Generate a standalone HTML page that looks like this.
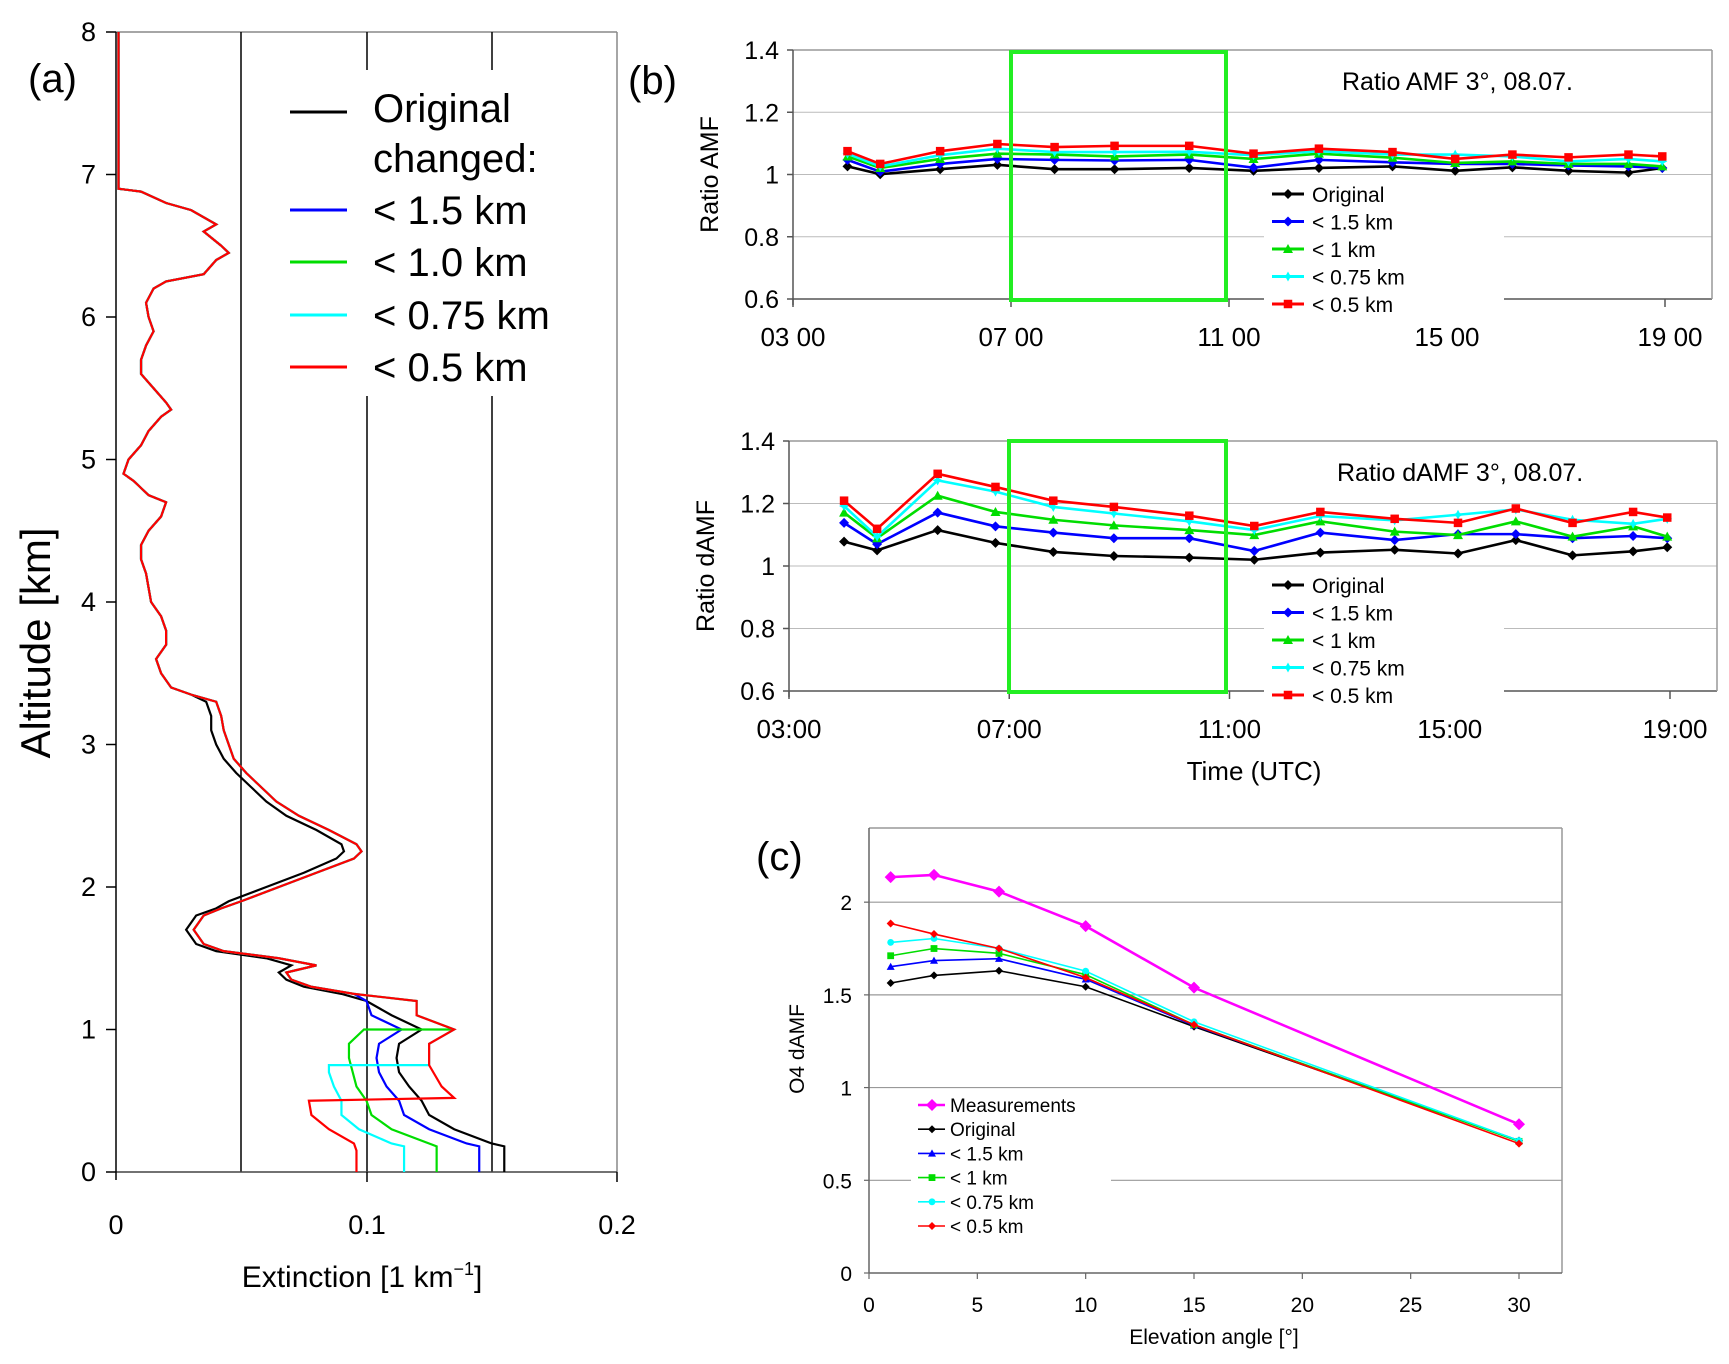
<!DOCTYPE html>
<html><head><meta charset="utf-8">
<style>
html,body{margin:0;padding:0;background:#fff;}
svg{display:block;}
text{font-family:"Liberation Sans",sans-serif;fill:#000;}
.nar{font-family:"Liberation Sans Narrow","Liberation Sans",sans-serif;}
</style></head>
<body>
<svg id="fig" width="1729" height="1364" viewBox="0 0 1729 1364" xmlns="http://www.w3.org/2000/svg">
<rect x="0" y="0" width="1729" height="1364" fill="#fff"/>
<g id="pa">
  <text x="28" y="92" font-size="40">(a)</text>
  <line x1="116" y1="32" x2="617" y2="32" stroke="#888" stroke-width="1.5"/>
  <line x1="617" y1="32" x2="617" y2="1172" stroke="#888" stroke-width="1.5"/>
  <line x1="241" y1="32" x2="241" y2="1172" stroke="#000" stroke-width="1.5"/>
  <line x1="367" y1="32" x2="367" y2="70" stroke="#000" stroke-width="1.5"/>
  <line x1="367" y1="396" x2="367" y2="1172" stroke="#000" stroke-width="1.5"/>
  <line x1="492" y1="32" x2="492" y2="70" stroke="#000" stroke-width="1.5"/>
  <line x1="492" y1="396" x2="492" y2="1172" stroke="#000" stroke-width="1.5"/>
  <line x1="116" y1="1172" x2="617" y2="1172" stroke="#444" stroke-width="1.5"/>
  <line x1="116" y1="32" x2="116" y2="1180" stroke="#000" stroke-width="1.5"/>
  <line x1="367" y1="1172" x2="367" y2="1182" stroke="#000" stroke-width="1.5"/>
  <line x1="617" y1="1172" x2="617" y2="1182" stroke="#000" stroke-width="1.5"/>
  <text x="116" y="1234" font-size="27" text-anchor="middle">0</text>
  <text x="367" y="1234" font-size="27" text-anchor="middle">0.1</text>
  <text x="617" y="1234" font-size="27" text-anchor="middle">0.2</text>
  <text x="362" y="1287" font-size="30" text-anchor="middle">Extinction [1 km<tspan font-size="18" dy="-12">−1</tspan><tspan dy="12">]</tspan></text>
  <text transform="translate(50,643) rotate(-90)" font-size="42" text-anchor="middle">Altitude [km]</text>
  <g id="aTicks"></g>
  <g id="aLines"></g>
  <g>
    <line x1="290" y1="112" x2="347" y2="112" stroke="#000" stroke-width="3"/>
    <text x="373" y="122" font-size="40">Original</text>
    <text x="373" y="172" font-size="40">changed:</text>
    <line x1="290" y1="210" x2="347" y2="210" stroke="#00f" stroke-width="3"/>
    <text x="373" y="224" font-size="40">&lt; 1.5 km</text>
    <line x1="290" y1="262" x2="347" y2="262" stroke="#0d0" stroke-width="3"/>
    <text x="373" y="276" font-size="40">&lt; 1.0 km</text>
    <line x1="290" y1="315" x2="347" y2="315" stroke="#0ff" stroke-width="3"/>
    <text x="373" y="329" font-size="40">&lt; 0.75 km</text>
    <line x1="290" y1="367" x2="347" y2="367" stroke="#f00" stroke-width="3"/>
    <text x="373" y="381" font-size="40">&lt; 0.5 km</text>
  </g>
</g>
<text x="628" y="94" font-size="40">(b)</text>
<g id="pb1"></g>
<g id="pb2"></g>
<g id="pc"></g>
</svg>
<script>
const aAltTicks=[0,1,2,3,4,5,6,7,8];
const upperAlt=[8,6.9,6.88,6.8,6.75,6.65,6.6,6.5,6.45,6.4,6.3,6.25,6.2,6.1,6.0,5.9,5.8,5.7,5.6,5.5,5.4,5.35,5.3,5.2,5.1,5.0,4.9,4.85,4.8,4.75,4.7,4.6,4.5,4.4,4.3,4.2,4.1,4.0,3.9,3.8,3.7,3.6,3.5,3.4,3.35];
const upperExt=[0.001,0.001,0.01,0.02,0.03,0.04,0.035,0.042,0.045,0.04,0.035,0.02,0.015,0.012,0.013,0.015,0.012,0.01,0.01,0.015,0.02,0.022,0.018,0.013,0.01,0.005,0.003,0.007,0.01,0.013,0.02,0.018,0.013,0.01,0.01,0.012,0.013,0.014,0.018,0.02,0.02,0.016,0.018,0.022,0.03];
const origMidAlt=[3.3,3.2,3.1,3.0,2.9,2.8,2.7,2.6,2.5,2.4,2.3,2.25,2.2,2.1,2.0,1.9,1.85,1.8,1.75,1.7,1.6,1.55,1.5,1.45,1.4,1.35,1.3,1.25];
const origMidExt=[0.036,0.038,0.038,0.04,0.043,0.048,0.054,0.06,0.068,0.08,0.09,0.091,0.088,0.075,0.06,0.045,0.04,0.032,0.03,0.028,0.032,0.04,0.06,0.07,0.065,0.068,0.075,0.09];
const modMidAlt=[3.3,3.2,3.1,3.0,2.9,2.8,2.7,2.6,2.5,2.4,2.3,2.25,2.2,2.1,2.0,1.9,1.85,1.8,1.75,1.7,1.6,1.55,1.5,1.45,1.4,1.35,1.3,1.25];
const modMidExt=[0.04,0.042,0.043,0.045,0.047,0.052,0.058,0.064,0.073,0.085,0.096,0.098,0.095,0.08,0.065,0.05,0.042,0.035,0.033,0.031,0.035,0.043,0.065,0.08,0.068,0.07,0.078,0.095];
const origLowAlt=[1.2,1.1,1.0,0.9,0.8,0.7,0.6,0.5,0.4,0.3,0.2,0.18,0];
const origLowExt=[0.1,0.11,0.122,0.113,0.112,0.113,0.117,0.122,0.125,0.135,0.15,0.155,0.155];
const blueLowAlt=[1.2,1.1,1.0,0.9,0.8,0.7,0.6,0.5,0.4,0.3,0.2,0.18,0];
const blueLowExt=[0.1,0.102,0.114,0.105,0.104,0.105,0.108,0.113,0.115,0.125,0.14,0.145,0.145];
const redLowAlt=[1.2,1.1,1.0,0.9,0.75,0.6,0.52,0.5,0.4,0.3,0.2,0.15,0];
const redLowExt=[0.12,0.12,0.135,0.125,0.125,0.13,0.135,0.077,0.078,0.085,0.095,0.096,0.096];
const greenLowAlt=[1.2,1.1,1.0,1.0,0.9,0.8,0.6,0.5,0.4,0.3,0.2,0.18,0];
const greenLowExt=[0.12,0.12,0.135,0.099,0.093,0.093,0.096,0.1,0.102,0.11,0.125,0.128,0.128];
const cyanLowAlt=[1.2,1.1,1.0,0.9,0.75,0.75,0.7,0.6,0.5,0.4,0.3,0.2,0.18,0];
const cyanLowExt=[0.12,0.12,0.135,0.125,0.125,0.085,0.085,0.087,0.09,0.09,0.097,0.11,0.115,0.115];

const NS="http://www.w3.org/2000/svg";
function mk(tag,attrs,parent){const e=document.createElementNS(NS,tag);for(const k in attrs)e.setAttribute(k,attrs[k]);parent.appendChild(e);return e;}
const ax=v=>116+v*2505, ay=v=>1172-v*142.5;
const aT=document.getElementById('aTicks');
aAltTicks.forEach(t=>{
  mk('line',{x1:106,y1:ay(t),x2:116,y2:ay(t),stroke:'#000','stroke-width':1.5},aT);
  const tx=mk('text',{x:96,y:ay(t)+9,'font-size':27,'text-anchor':'end'},aT);
  tx.textContent=t;
  
  
});
function profile(parts,color,name){
  let pts=[];
  parts.forEach(p=>{for(let i=0;i<p[0].length;i++)pts.push(ax(p[1][i])+','+ay(p[0][i]));});
  const pl=mk('polyline',{points:pts.join(' '),fill:'none',stroke:color,'stroke-width':2.2},document.getElementById('aLines'));
  
  
}
profile([[upperAlt,upperExt],[origMidAlt,origMidExt],[origLowAlt,origLowExt]],'#000','profile-original');
profile([[upperAlt,upperExt],[modMidAlt,modMidExt],[blueLowAlt,blueLowExt]],'#00f','profile-1.5km');
profile([[upperAlt,upperExt],[modMidAlt,modMidExt],[greenLowAlt,greenLowExt]],'#0d0','profile-1.0km');
profile([[upperAlt,upperExt],[modMidAlt,modMidExt],[cyanLowAlt,cyanLowExt]],'#0ff','profile-0.75km');
profile([[upperAlt,upperExt],[modMidAlt,modMidExt],[redLowAlt,redLowExt]],'#f00','profile-0.5km');

const bTimes=[4.0,4.6,5.7,6.75,7.8,8.9,10.27,11.45,12.65,14.0,15.15,16.2,17.23,18.33,18.95];
const bTimeTicks=[3,7,11,15,19];
const bYTicks=[0.6,0.8,1,1.2,1.4];
const amfOrig=[1.026,1.001,1.017,1.031,1.017,1.017,1.021,1.012,1.021,1.026,1.012,1.023,1.012,1.006,1.021];
const amf15=[1.047,1.009,1.034,1.050,1.047,1.045,1.047,1.022,1.047,1.039,1.034,1.034,1.029,1.026,1.021];
const amf10=[1.058,1.021,1.050,1.067,1.064,1.058,1.064,1.050,1.067,1.054,1.037,1.042,1.034,1.034,1.026];
const amf075=[1.067,1.026,1.062,1.083,1.072,1.072,1.073,1.062,1.075,1.064,1.064,1.058,1.042,1.050,1.042];
const amf05=[1.075,1.034,1.075,1.098,1.088,1.092,1.092,1.067,1.083,1.072,1.050,1.064,1.055,1.064,1.058];
const damfOrig=[1.078,1.050,1.115,1.074,1.045,1.032,1.027,1.020,1.043,1.052,1.040,1.083,1.034,1.047,1.060];
const damf15=[1.138,1.070,1.171,1.127,1.107,1.089,1.089,1.048,1.107,1.083,1.102,1.102,1.089,1.096,1.089];
const damf10=[1.171,1.089,1.225,1.173,1.148,1.130,1.115,1.099,1.143,1.110,1.099,1.143,1.094,1.127,1.094];
const damf075=[1.192,1.094,1.274,1.238,1.189,1.168,1.143,1.115,1.160,1.146,1.164,1.181,1.148,1.135,1.151];
const damf05=[1.209,1.119,1.295,1.253,1.209,1.189,1.161,1.128,1.173,1.151,1.138,1.184,1.138,1.173,1.155];
const bLegend=['Original','< 1.5 km','< 1 km','< 0.75 km','< 0.5 km'];
const bColors=['#000','#00f','#0d0','#0ff','#f00'];
const bMarks=['diamond','diamond','triangle','cross','square'];

function marker(g,type,x,y,c,s){
  let e;
  if(type==='diamond')e=mk('polygon',{points:`${x},${y-s} ${x+s},${y} ${x},${y+s} ${x-s},${y}`,fill:c},g);
  else if(type==='triangle')e=mk('polygon',{points:`${x},${y-s} ${x+s},${y+s*0.8} ${x-s},${y+s*0.8}`,fill:c},g);
  else if(type==='square')e=mk('rect',{x:x-s*0.85,y:y-s*0.85,width:s*1.7,height:s*1.7,fill:c},g);
  else if(type==='circle')e=mk('circle',{cx:x,cy:y,r:s*0.85,fill:c},g);
  else e=mk('polygon',{points:`${x},${y-s} ${x+s*0.35},${y-s*0.35} ${x+s},${y} ${x+s*0.35},${y+s*0.35} ${x},${y+s} ${x-s*0.35},${y+s*0.35} ${x-s},${y} ${x-s*0.35},${y-s*0.35}`,fill:c},g);
  return e;
}

function panelB(gid,cfg){
  const g=document.getElementById(gid);
  const X=t=>cfg.x0+(t-3)/16*(cfg.x19-cfg.x0);
  const Y=v=>cfg.yb-(v-0.6)/0.8*(cfg.yb-cfg.yt);
  bYTicks.forEach(t=>{
    mk('line',{x1:cfg.x0,y1:Y(t),x2:cfg.xr,y2:Y(t),stroke:t===1.4?'#999':(t===0.6?'#555':'#bbb'),'stroke-width':t===1.4||t===0.6?1.5:1},g);
    mk('line',{x1:cfg.x0-6,y1:Y(t),x2:cfg.x0,y2:Y(t),stroke:'#555','stroke-width':1.5},g);
    const tx=mk('text',{x:cfg.x0-14,y:Y(t)+9,'font-size':25,'text-anchor':'end',class:'nar'},g);
    tx.textContent=(t===1?'1':t.toFixed(1));
    
    
  });
  mk('line',{x1:cfg.x0,y1:Y(1.4),x2:cfg.x0,y2:Y(0.6)+6,stroke:'#555','stroke-width':1.5},g);
  mk('line',{x1:cfg.xr,y1:Y(1.4),x2:cfg.xr,y2:Y(0.6),stroke:'#999','stroke-width':1.5},g);
  bTimeTicks.forEach(t=>{
    mk('line',{x1:X(t),y1:Y(0.6),x2:X(t),y2:Y(0.6)+8,stroke:'#555','stroke-width':1.5},g);
    const tx=mk('text',{x:X(t)+(t===19?5:0),y:cfg.labY,'font-size':26,'text-anchor':'middle',class:'nar'},g);
    tx.textContent=(t<10?'0':'')+t+cfg.sep+'00';
    
    
  });
  mk('rect',{x:cfg.lx-8,y:cfg.ly-16,width:240,height:135,fill:'#fff'},g);
  cfg.series.forEach((s,i)=>{
    const pl=mk('polyline',{points:s.map((v,j)=>X(bTimes[j])+','+Y(v)).join(' '),fill:'none',stroke:bColors[i],'stroke-width':2.6},g);
    
    
    s.forEach((v,j)=>{
      const m=marker(g,bMarks[i],X(bTimes[j]),Y(v),bColors[i],5);
      
      
    });
  });
  const bx=mk('rect',{x:cfg.bx1,y:cfg.by1,width:cfg.bx2-cfg.bx1,height:cfg.by2-cfg.by1,fill:'none',stroke:'#2e2','stroke-width':4},g);
  
  
  bLegend.forEach((l,i)=>{
    const yy=cfg.ly+i*27.5;
    mk('line',{x1:cfg.lx,y1:yy,x2:cfg.lx+32,y2:yy,stroke:bColors[i],'stroke-width':3},g);
    const m=marker(g,bMarks[i],cfg.lx+16,yy,bColors[i],5);
    
    
    const tx=mk('text',{x:cfg.lx+40,y:yy+8,'font-size':21,class:'nar'},g);
    tx.textContent=l;
    
    
  });
  const tt=mk('text',{x:cfg.tx,y:cfg.ty,'font-size':25,class:'nar'},g);
  tt.textContent=cfg.title;
  
  
  const yl=mk('text',{transform:`translate(${cfg.ylx},${(Y(0.6)+Y(1.4))/2}) rotate(-90)`,'font-size':25,'text-anchor':'middle'},g);
  yl.textContent=cfg.ylab;
  
  
}
panelB('pb1',{key:'amf',x0:793,x19:1665,xr:1712,yt:50,yb:299,labY:346,sep:' ',lx:1272,ly:194,bx1:1011,bx2:1226,by1:52,by2:300,tx:1342,ty:90,title:'Ratio AMF 3°, 08.07.',ylab:'Ratio AMF',ylx:718,series:[amfOrig,amf15,amf10,amf075,amf05]});
panelB('pb2',{key:'damf',x0:789,x19:1670,xr:1717,yt:441,yb:691,labY:738,sep:':',lx:1272,ly:585,bx1:1009,bx2:1226,by1:441,by2:692,tx:1337,ty:481,title:'Ratio dAMF 3°, 08.07.',ylab:'Ratio dAMF',ylx:714,series:[damfOrig,damf15,damf10,damf075,damf05]});
{const g=document.getElementById('pb2');const t=mk('text',{x:1254,y:780,'font-size':26,'text-anchor':'middle',class:'nar'},g);t.textContent='Time (UTC)';

}

const cAngles=[1,3,6,10,15,30];
const cXTicks=[0,5,10,15,20,25,30];
const cYTicks=[0,0.5,1,1.5,2];
const cMeas=[2.135,2.147,2.057,1.871,1.539,0.802];
const cOrig=[1.564,1.605,1.630,1.544,1.329,0.714];
const c15=[1.652,1.685,1.695,1.584,1.335,0.714];
const c10=[1.711,1.750,1.724,1.609,1.339,0.710];
const c075=[1.783,1.804,1.750,1.628,1.355,0.714];
const c05=[1.885,1.828,1.750,1.593,1.339,0.698];
const cLegend=['Measurements','Original','< 1.5 km','< 1 km','< 0.75 km','< 0.5 km'];
const cColors=['#f0f','#000','#00f','#0d0','#0ff','#f00'];
const cMarks=['diamond','diamond','triangle','square','circle','diamond'];
(function(){
  const g=document.getElementById('pc');
  const X=v=>869+v/30*650, Y=v=>1273-v/2.4*445;
  const t0=mk('text',{x:756,y:870,'font-size':40},g);t0.textContent='(c)';
  
  
  mk('line',{x1:X(0),y1:Y(2.4),x2:1562,y2:Y(2.4),stroke:'#999','stroke-width':1.5},g);
  mk('line',{x1:1562,y1:Y(2.4),x2:1562,y2:Y(0),stroke:'#999','stroke-width':1.5},g);
  cYTicks.forEach(t=>{
    if(t>0)mk('line',{x1:X(0),y1:Y(t),x2:1562,y2:Y(t),stroke:'#999','stroke-width':1.2},g);
    mk('line',{x1:X(0)-5,y1:Y(t),x2:X(0),y2:Y(t),stroke:'#666','stroke-width':1.2},g);
    const tx=mk('text',{x:852,y:Y(t)+8,'font-size':21,'text-anchor':'end',class:'nar'},g);
    tx.textContent=t;
    
    
  });
  mk('line',{x1:X(0),y1:Y(0),x2:1562,y2:Y(0),stroke:'#666','stroke-width':1.5},g);
  mk('line',{x1:X(0),y1:Y(2.4),x2:X(0),y2:Y(0),stroke:'#666','stroke-width':1.5},g);
  cXTicks.forEach(t=>{
    mk('line',{x1:X(t),y1:Y(0),x2:X(t),y2:Y(0)+6,stroke:'#666','stroke-width':1.2},g);
    const tx=mk('text',{x:X(t),y:1312,'font-size':21,'text-anchor':'middle',class:'nar'},g);
    tx.textContent=t;
    
    
  });
  mk('rect',{x:911,y:1093,width:200,height:142,fill:'#fff'},g);
  [cMeas,cOrig,c15,c10,c075,c05].forEach((s,i)=>{
    const pl=mk('polyline',{points:s.map((v,j)=>X(cAngles[j])+','+Y(v)).join(' '),fill:'none',stroke:cColors[i],'stroke-width':i===0?2.6:1.6},g);
    
    
    s.forEach((v,j)=>{
      const m=marker(g,cMarks[i],X(cAngles[j]),Y(v),cColors[i],i===0?6:4);
      
      
    });
  });
  cLegend.forEach((l,i)=>{
    const yy=1105+i*24.2;
    mk('line',{x1:918,y1:yy,x2:945,y2:yy,stroke:cColors[i],'stroke-width':i===0?2.6:1.6},g);
    const m=marker(g,cMarks[i],932,yy,cColors[i],i===0?6:4);
    
    
    const tx=mk('text',{x:950,y:yy+7,'font-size':19,class:'nar'},g);
    tx.textContent=l;
    
    
  });
  const xt=mk('text',{x:1214,y:1344,'font-size':21,'text-anchor':'middle',class:'nar'},g);
  xt.textContent='Elevation angle [°]';
  
  
  const yt=mk('text',{transform:'translate(804,1049) rotate(-90)','font-size':21,'text-anchor':'middle'},g);
  yt.textContent='O4 dAMF';
  
  
})();
</script>
</body></html>
